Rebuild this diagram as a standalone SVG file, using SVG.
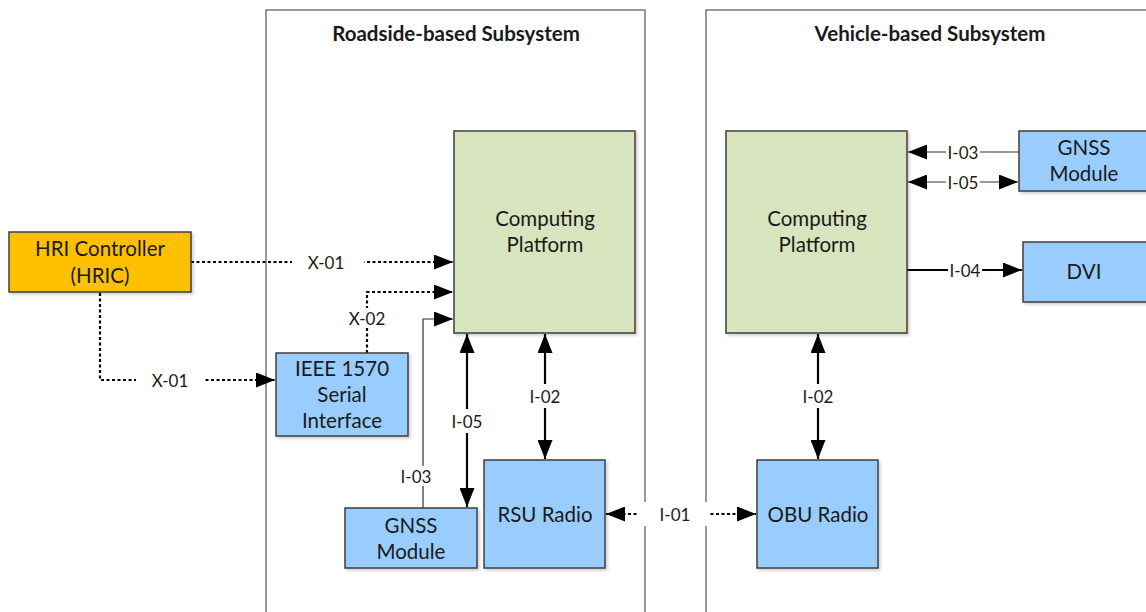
<svg xmlns="http://www.w3.org/2000/svg" width="1146" height="612" viewBox="0 0 1146 612">
  <style>
    text { font-family: Lato, "Open Sans", sans-serif; font-size: 20.5px; fill: #1a1a1a; text-anchor: middle; dominant-baseline: central; }
    .title { font-weight: bold; font-size: 20.5px; }
    .lbl { font-size: 17px; }
    .frame { fill: #ffffff; stroke: #555555; stroke-width: 1.2; }
    .box { stroke: #3f3f3f; stroke-width: 1.5; filter: url(#shadow); }
    .blue { fill: #99CCFF; }
    .green { fill: #D7E4BD; }
    .orange { fill: #FFC000; }
    .solid { fill: none; stroke: #000; stroke-width: 2.2; }
    .thin { fill: none; stroke: #333; stroke-width: 1.2; }
    .dot { fill: none; stroke: #000; stroke-width: 2.2; stroke-dasharray: 3 2.5; }
    .gap { fill: #ffffff; }
  </style>
  <defs>
    <marker id="arrL" viewBox="0 0 10 10" refX="10" refY="5" markerWidth="19" markerHeight="15" preserveAspectRatio="none" orient="auto-start-reverse" markerUnits="userSpaceOnUse">
      <path d="M0,0 L10,5 L0,10 z" fill="#000"/>
    </marker>
    <filter id="shadow" x="-10%" y="-10%" width="130%" height="130%">
      <feDropShadow dx="2" dy="2" stdDeviation="1.5" flood-color="#000" flood-opacity="0.18"/>
    </filter>
  </defs>

  <rect width="1146" height="612" fill="#ffffff"/>

  <!-- subsystem frames -->
  <g id="roadside-subsystem">
    <rect class="frame" x="266" y="10" width="379" height="620"/>
    <text class="title" x="456" y="33">Roadside-based Subsystem</text>
  </g>
  <g id="vehicle-subsystem">
    <rect class="frame" x="706" y="10" width="460" height="620"/>
    <text class="title" x="930" y="33">Vehicle-based Subsystem</text>
  </g>

  <!-- connectors -->
  <g id="connectors">
    <!-- X-01 to roadside computing platform -->
    <path class="dot" d="M191,262 H453" marker-end="url(#arrL)"/>
    <rect class="gap" x="292" y="252" width="72" height="20"/>
    <text class="lbl" x="326" y="262">X-01</text>
    <!-- X-01 to IEEE 1570 -->
    <path class="dot" d="M100,293 V380 H275" marker-end="url(#arrL)"/>
    <rect class="gap" x="136" y="370" width="68" height="20"/>
    <text class="lbl" x="170" y="380">X-01</text>
    <!-- X-02 -->
    <path class="dot" d="M367,353 V292 H453" marker-end="url(#arrL)"/>
    <rect class="gap" x="345" y="308" width="44" height="20"/>
    <text class="lbl" x="367" y="318">X-02</text>
    <!-- I-03 roadside -->
    <path class="thin" d="M423,508 V319 H453" marker-end="url(#arrL)"/>
    <rect class="gap" x="401" y="466" width="44" height="20"/>
    <text class="lbl" x="416" y="476">I-03</text>
    <!-- I-05 roadside -->
    <path class="solid" d="M467,334 V507" marker-start="url(#arrL)" marker-end="url(#arrL)"/>
    <rect class="gap" x="448" y="409" width="40" height="24"/>
    <text class="lbl" x="467" y="421">I-05</text>
    <!-- I-02 roadside -->
    <path class="solid" d="M545,334 V459" marker-start="url(#arrL)" marker-end="url(#arrL)"/>
    <rect class="gap" x="525" y="384" width="40" height="24"/>
    <text class="lbl" x="545" y="396">I-02</text>
    <!-- I-01 wireless link -->
    <path class="dot" d="M606,514 H756" marker-start="url(#arrL)" marker-end="url(#arrL)"/>
    <rect class="gap" x="637" y="502" width="72" height="24"/>
    <text class="lbl" x="675" y="514">I-01</text>
    <!-- I-02 vehicle -->
    <path class="solid" d="M818,334 V459" marker-start="url(#arrL)" marker-end="url(#arrL)"/>
    <rect class="gap" x="798" y="384" width="40" height="24"/>
    <text class="lbl" x="818" y="396">I-02</text>
    <!-- I-03 vehicle -->
    <path class="thin" d="M1019,152 H908" marker-end="url(#arrL)"/>
    <rect class="gap" x="946" y="143" width="34" height="18"/>
    <text class="lbl" x="963" y="152">I-03</text>
    <!-- I-05 vehicle -->
    <path class="thin" d="M908,182 H1018" marker-start="url(#arrL)" marker-end="url(#arrL)"/>
    <rect class="gap" x="946" y="173" width="34" height="18"/>
    <text class="lbl" x="963" y="182">I-05</text>
    <!-- I-04 vehicle -->
    <path class="solid" d="M907,270 H1022" marker-end="url(#arrL)"/>
    <rect class="gap" x="948" y="261" width="34" height="18"/>
    <text class="lbl" x="965" y="270">I-04</text>
  </g>

  <!-- nodes -->
  <g id="hric">
    <rect class="box orange" x="9" y="232" width="182" height="60"/>
    <text x="100" y="248">HRI Controller</text>
    <text x="100" y="275">(HRIC)</text>
  </g>
  <g id="ieee1570">
    <rect class="box blue" x="276" y="353" width="132" height="83"/>
    <text x="342" y="368">IEEE 1570</text>
    <text x="342" y="394">Serial</text>
    <text x="342" y="420">Interface</text>
  </g>
  <g id="rsu-computing">
    <rect class="box green" x="454" y="131" width="181" height="202"/>
    <text x="545" y="218">Computing</text>
    <text x="545" y="244">Platform</text>
  </g>
  <g id="rsu-gnss">
    <rect class="box blue" x="345" y="508" width="132" height="60"/>
    <text x="411" y="525">GNSS</text>
    <text x="411" y="551">Module</text>
  </g>
  <g id="rsu-radio">
    <rect class="box blue" x="484" y="460" width="121" height="108"/>
    <text x="545" y="514">RSU Radio</text>
  </g>
  <g id="obu-radio">
    <rect class="box blue" x="757" y="460" width="121" height="108"/>
    <text x="818" y="514">OBU Radio</text>
  </g>
  <g id="obu-computing">
    <rect class="box green" x="726" y="131" width="181" height="202"/>
    <text x="817" y="218">Computing</text>
    <text x="817" y="244">Platform</text>
  </g>
  <g id="obu-gnss">
    <rect class="box blue" x="1019" y="131" width="140" height="60"/>
    <text x="1084" y="147">GNSS</text>
    <text x="1084" y="173">Module</text>
  </g>
  <g id="dvi">
    <rect class="box blue" x="1023" y="242" width="136" height="60"/>
    <text x="1084" y="271">DVI</text>
  </g>
</svg>
